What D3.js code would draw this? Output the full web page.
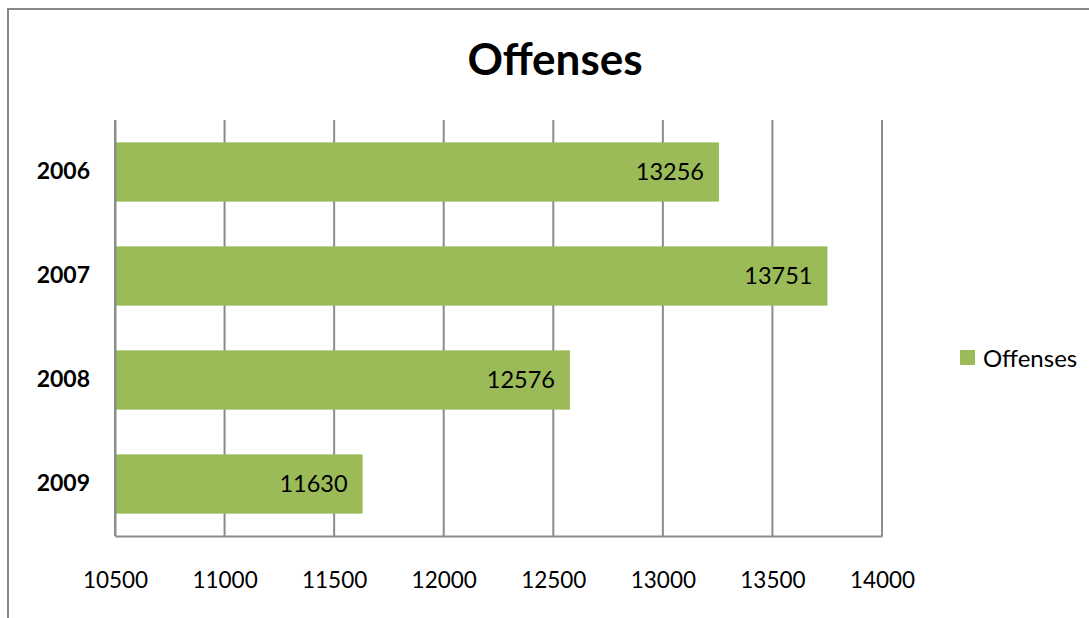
<!DOCTYPE html>
<html><head><meta charset="utf-8">
<script src="https://cdn.jsdelivr.net/npm/d3@7"></script>
<style>body{margin:0;background:#fff}svg{display:block}text{font-family:Lato,"Open Sans",sans-serif}</style>
</head><body><svg id="c" width="1089" height="618"></svg>
<script>
const categories = ["2006","2007","2008","2009"];
const values = [13256,13751,12576,11630];
const xTicks = [10500,11000,11500,12000,12500,13000,13500,14000];
const seriesName = "Offenses";
const title = "Offenses";

const svg = d3.select("#c");
svg.append("path").attr("d","M8,618 V9 H1089").attr("fill","none").attr("stroke","#888").attr("stroke-width",2);

const L=115,R=882,T=120,B=536;
const x = d3.scaleLinear().domain([10500,14000]).range([L,R]);
const y = d3.scaleBand().domain(categories).range([T,B]).paddingInner(0.43).paddingOuter(0.215);

// gridlines
svg.append("g").selectAll("line").data(xTicks).join("line")
  .attr("x1",d=>x(d)).attr("x2",d=>x(d)).attr("y1",T).attr("y2",B)
  .attr("stroke","#8c8c8c").attr("stroke-width",2);

// bars
svg.append("g").selectAll("rect").data(values).join("rect")
  .attr("x",x(10500)).attr("y",(d,i)=>y(categories[i]))
  .attr("width",d=>x(d)-x(10500)).attr("height",y.bandwidth())
  .attr("fill","#9bbb59");

// labels
svg.append("g").selectAll("text").data(values).join("text")
  .attr("x",d=>x(d)-15).attr("y",(d,i)=>y(categories[i])+y.bandwidth()/2)
  .attr("dy","0.36em").attr("text-anchor","end").attr("font-size",23.5).attr("fill","#000")
  .text(d=>d);

// axes
const xa = svg.append("g").attr("transform",`translate(0,${B})`)
  .call(d3.axisBottom(x).tickValues(xTicks).tickSize(0).tickPadding(36).tickFormat(d3.format("d")));
xa.select(".domain").attr("stroke","#8c8c8c").attr("stroke-width",2);
xa.selectAll("text").attr("font-size",22.5).attr("fill","#000").attr("font-family","Lato");

const ya = svg.append("g").attr("transform",`translate(${L},0)`)
  .call(d3.axisLeft(y).tickSize(0).tickPadding(25));
ya.select(".domain").attr("stroke","#8c8c8c").attr("stroke-width",2);
ya.selectAll("text").attr("font-size",23).attr("font-weight","bold").attr("fill","#000").attr("font-family","Lato");

// title
svg.append("text").attr("x",555).attr("y",75).attr("text-anchor","middle")
  .attr("font-size",44).attr("font-weight","bold").text(title);

// legend
svg.append("rect").attr("x",960).attr("y",350).attr("width",15).attr("height",15).attr("fill","#9bbb59");
svg.append("text").attr("x",983).attr("y",358).attr("dy","0.36em").attr("font-size",24).text(seriesName);
</script></body></html>
